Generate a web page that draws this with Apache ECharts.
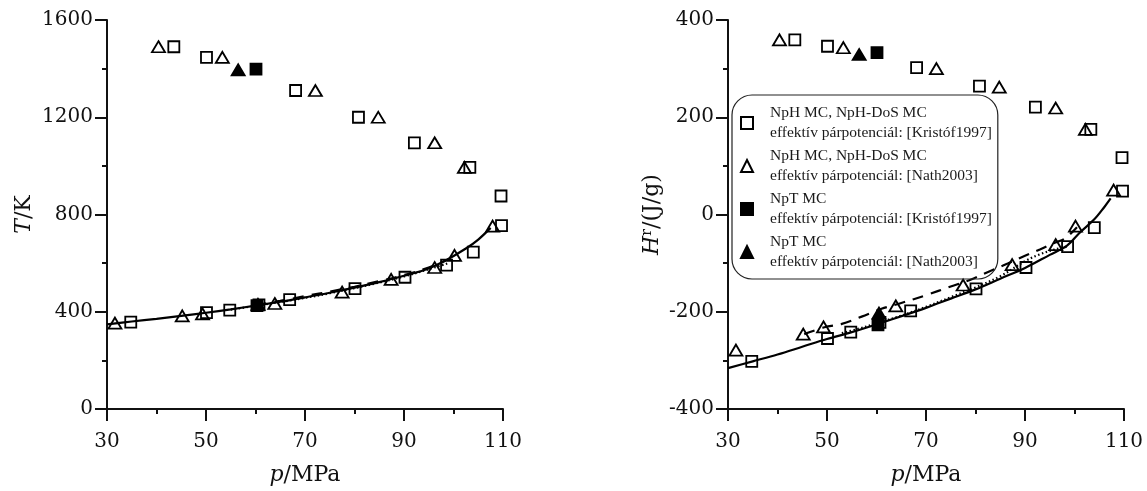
<!DOCTYPE html>
<html>
<head>
<meta charset="utf-8">
<script src="https://cdn.jsdelivr.net/npm/echarts@6/dist/echarts.min.js"></script>
<style>
  html, body { margin: 0; padding: 0; background: #fff; }
  #chart { width: 1147px; height: 491px; }
</style>
</head>
<body>
<div id="chart"></div>
<script>
// ---- pressure of the simulated states (MPa) ----
const pSqUpper  = [43.5, 50.1, 68.1, 80.8, 92.1, 103.3, 109.6];
const pTriUpper = [40.4, 53.3, 72.1, 84.8, 96.2, 102.2, 110.6];
const pSqLower  = [34.8, 50.1, 54.8, 60.7, 66.9, 80.1, 90.2, 98.6, 104.0, 109.7];
const pTriLower = [31.6, 45.2, 49.3, 63.9, 77.5, 87.4, 96.2, 100.2, 107.9];
const pSqNpT    = [60.1, 60.3];
const pTriNpT   = [56.5, 60.5];

// ---- temperature (K) ----
const tSqUpper  = [1490, 1446, 1310, 1200, 1095, 994, 876];
const tTriUpper = [1490, 1446, 1310, 1200, 1095, 994, 873];
const tSqLower  = [357, 396, 407, 428, 450, 495, 542, 592, 645, 754];
const tTriLower = [353, 383, 391, 434, 481, 533, 582, 632, 752];
const tSqNpT    = [1398, 425];
const tTriNpT   = [1395, 430];

// ---- residual enthalpy (J/g) ----
const hSqUpper  = [359, 346, 302, 264, 221, 175, 117];
const hTriUpper = [359, 343, 300, 262, 219, 175, 117];
const hSqLower  = [-302, -255, -242, -222, -198, -153, -109, -66, -27, 48];
const hTriLower = [-279, -246, -231, -188, -145, -103, -62, -24, 50];
const hSqNpT    = [333, -227];
const hTriNpT   = [329, -203];

// ---- reference curves ----
const tSolidP  = [30, 35, 40, 45, 50, 55, 60, 65, 70, 75, 80, 85, 90, 95, 98.5, 102.5, 105, 107.5];
const tSolid   = [348, 360, 371, 383, 396, 410, 425, 441, 459, 478, 499, 522, 548, 578, 612, 660, 697, 745];
const tDashP   = [60, 65, 70, 75, 80, 85, 90, 95, 100];
const tDash    = [427, 445, 464, 483, 503, 526, 551, 582, 625];
const tDotP    = [55, 60, 65, 70, 75, 80, 85, 90, 95, 99];
const tDot     = [409, 424, 440, 457, 476, 497, 520, 545, 575, 600];

const hSolidP  = [30, 35, 40, 45, 50, 55, 60, 66, 70, 75, 80, 85, 90, 95, 98.5, 101, 104, 106, 107.3];
const hSolid   = [-316, -302, -288, -272, -256, -242, -226, -206, -192, -173, -154, -132, -110, -83, -64, -38, -10, 15, 33];
const hDashP   = [45.4, 49.5, 53, 57, 61, 65, 70, 75, 79, 83, 86.5, 90, 93, 96, 98, 100.5];
const hDash    = [-246, -232, -225, -210, -194, -182, -166, -148, -134, -116, -101, -85, -72, -58, -50, -26];
const hDotP    = [53, 56, 60, 65, 70, 75, 80, 85, 90, 93, 96, 98.6];
const hDot     = [-244, -236, -224, -208, -190, -170, -150, -127, -96, -82, -72, -66];

// ---- legend labels ----
const legendNames = [
  'NpH MC, NpH-DoS MC\neffektív párpotenciál: [Kristóf1997]',
  'NpH MC, NpH-DoS MC\neffektív párpotenciál: [Nath2003]',
  'NpT MC\neffektív párpotenciál: [Kristóf1997]',
  'NpT MC\neffektív párpotenciál: [Nath2003]'
];

const INK = '#111';
const SERIF = 'DejaVu Serif';

const zip = (xs, ys) => xs.map((x, i) => [x, ys[i]]);

function scatter(name, xs, ys, symbol, filled, gi) {
  return {
    type: 'scatter', name: name,
    xAxisIndex: gi, yAxisIndex: gi,
    data: zip(xs, ys),
    symbol: symbol,
    symbolSize: symbol === 'triangle' ? [13, 11] : 11,
    itemStyle: {
      color: filled ? '#000' : 'rgba(0,0,0,0)',
      borderColor: '#000',
      borderWidth: 1.8,
      opacity: 1
    },
    emphasis: { disabled: true },
    z: 3
  };
}

function curve(xs, ys, dash, gi) {
  return {
    type: 'line',
    xAxisIndex: gi, yAxisIndex: gi,
    data: zip(xs, ys),
    smooth: 0.35,
    symbol: 'none',
    lineStyle: { color: '#000', width: 2.2, type: dash },
    emphasis: { disabled: true },
    z: 2
  };
}

const plainNumber = v => String(v);

function xAxis(gi) {
  return {
    type: 'value', gridIndex: gi,
    min: 30, max: 110, interval: 20,
    axisLine: { show: true, onZero: false, lineStyle: { color: INK, width: 2 } },
    axisTick: { show: true, length: 12, lineStyle: { color: INK, width: 2 } },
    minorTick: { show: true, splitNumber: 2, length: 5, lineStyle: { color: INK, width: 2 } },
    splitLine: { show: false },
    minorSplitLine: { show: false },
    axisLabel: { margin: 23, fontFamily: SERIF, fontSize: 20, color: INK, formatter: plainNumber },
    name: '{i|p}/MPa',
    nameLocation: 'middle',
    nameGap: 55,
    nameTextStyle: {
      fontFamily: SERIF, fontSize: 22, color: INK,
      rich: { i: { fontFamily: SERIF, fontSize: 22, fontStyle: 'italic', color: INK } }
    }
  };
}

function yAxis(gi, min, max, interval, name, rich, gap) {
  return {
    type: 'value', gridIndex: gi,
    min: min, max: max, interval: interval,
    axisLine: { show: true, onZero: false, lineStyle: { color: INK, width: 2 } },
    axisTick: { show: true, length: 12, lineStyle: { color: INK, width: 2 } },
    minorTick: { show: true, splitNumber: 2, length: 5, lineStyle: { color: INK, width: 2 } },
    splitLine: { show: false },
    minorSplitLine: { show: false },
    axisLabel: { margin: 14, fontFamily: SERIF, fontSize: 20, color: INK, formatter: plainNumber },
    name: name,
    nameLocation: 'middle',
    nameGap: gap,
    nameTextStyle: { fontFamily: SERIF, fontSize: 22, color: INK, rich: rich }
  };
}

const italic = { fontFamily: SERIF, fontSize: 22, fontStyle: 'italic', color: INK };

const option = {
  animation: false,
  backgroundColor: '#fff',
  grid: [
    { left: 107, top: 20, width: 396, height: 396 },
    { left: 728, top: 20, width: 396, height: 396 }
  ],
  xAxis: [xAxis(0), xAxis(1)],
  yAxis: [
    yAxis(0, 0, 1600, 400, '{i|T}/K', { i: italic }, 72),
    yAxis(1, -400, 400, 200, '{i|H}{s|r}/(J/g)',
      { i: italic, s: { fontFamily: SERIF, fontSize: 14, color: INK, padding: [0, 0, 10, 0] } }, 64)
  ],
  legend: {
    data: legendNames,
    orient: 'vertical',
    left: 732, top: 95,
    padding: [8, 6, 7, 8],
    itemGap: 3,
    itemWidth: 12, itemHeight: 12,
    borderColor: '#222', borderWidth: 1.2, borderRadius: 20,
    selectedMode: false,
    textStyle: { fontFamily: 'Liberation Serif', fontSize: 15.5, lineHeight: 20, color: '#1a1a1a', padding: [0, 0, 0, 12] }
  },
  series: [
    // temperature panel
    curve(tSolidP, tSolid, 'solid', 0),
    curve(tDashP, tDash, [11, 8], 0),
    curve(tDotP, tDot, [1.5, 2.5], 0),
    scatter(legendNames[0], pSqUpper.concat(pSqLower), tSqUpper.concat(tSqLower), 'rect', false, 0),
    scatter(legendNames[1], pTriUpper.concat(pTriLower), tTriUpper.concat(tTriLower), 'triangle', false, 0),
    scatter(legendNames[3], pTriNpT, tTriNpT, 'triangle', true, 0),
    scatter(legendNames[2], pSqNpT, tSqNpT, 'rect', true, 0),
    // enthalpy panel
    curve(hSolidP, hSolid, 'solid', 1),
    curve(hDashP, hDash, [11, 8], 1),
    curve(hDotP, hDot, [1.5, 2.5], 1),
    scatter(legendNames[0], pSqUpper.concat(pSqLower), hSqUpper.concat(hSqLower), 'rect', false, 1),
    scatter(legendNames[1], pTriUpper.concat(pTriLower), hTriUpper.concat(hTriLower), 'triangle', false, 1),
    scatter(legendNames[2], pSqNpT, hSqNpT, 'rect', true, 1),
    scatter(legendNames[3], pTriNpT, hTriNpT, 'triangle', true, 1)
  ]
};

const chart = echarts.init(document.getElementById('chart'), null, { renderer: 'canvas' });
chart.setOption(option);
</script>
</body>
</html>
